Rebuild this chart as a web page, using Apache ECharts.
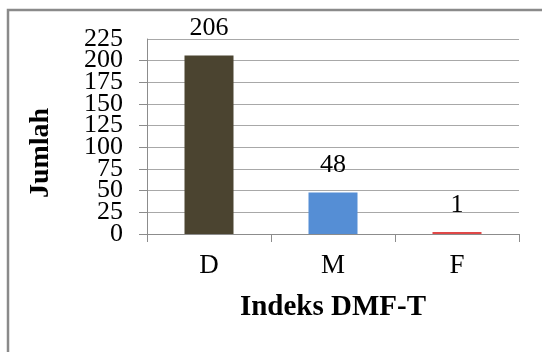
<!DOCTYPE html>
<html>
<head>
<meta charset="utf-8">
<script src="https://cdn.jsdelivr.net/npm/echarts@6/dist/echarts.min.js"></script>
<style>
  html, body { margin: 0; padding: 0; background: #ffffff; }
  #chart { width: 542px; height: 352px; }
</style>
</head>
<body>
<div id="chart"></div>
<script>
// DMF-T index components and their counts
const categories = ['D', 'M', 'F'];
const counts = [206, 48, 1];
const barColors = ['#4b4430', '#558ed5', '#e04848'];
const yTicks = { min: 0, max: 225, step: 25 };
const xTitle = 'Indeks DMF-T';
const yTitle = 'Jumlah';

const serif = '"Liberation Serif", "Times New Roman", serif';

const chart = echarts.init(document.getElementById('chart'), null, { renderer: 'canvas' });

// The tick labels are packed tightly; they are split over two stacked
// axes (even and odd steps) so none of them gets dropped as overlapping.
const tickLabel = (keepOdd) => ({
  margin: 24,
  color: '#000',
  fontFamily: serif,
  fontSize: 26,
  hideOverlap: false,
  showMinLabel: !keepOdd,
  showMaxLabel: keepOdd,
  formatter: v => (Math.round(v / yTicks.step) % 2 === 1) === keepOdd ? String(v) : ''
});

chart.setOption({
  animation: false,
  backgroundColor: '#ffffff',
  grid: { left: 147, right: 23, top: 39, bottom: 118, containLabel: false },
  graphic: [
    {
      // chart frame, open past the right and bottom edges
      type: 'rect',
      x: 8, y: 10,
      shape: { width: 600, height: 400 },
      style: { fill: 'none', stroke: '#8a8a8a', lineWidth: 2.5 },
      silent: true
    },
    {
      type: 'text',
      x: 333, y: 308,
      style: {
        text: xTitle,
        font: 'bold 29px ' + serif,
        fill: '#000',
        textAlign: 'center',
        textVerticalAlign: 'middle'
      }
    },
    {
      type: 'text',
      x: 41, y: 153,
      rotation: Math.PI / 2,
      style: {
        text: yTitle,
        font: 'bold 28px ' + serif,
        fill: '#000',
        textAlign: 'center',
        textVerticalAlign: 'middle'
      }
    }
  ],
  xAxis: {
    type: 'category',
    data: categories,
    axisLine: { show: true, lineStyle: { color: '#8c8c8c', width: 1 } },
    axisTick: { show: true, length: 8, alignWithLabel: false, lineStyle: { color: '#8c8c8c' } },
    axisLabel: { margin: 18, color: '#000', fontFamily: serif, fontSize: 27 },
    splitLine: { show: false }
  },
  yAxis: [
    {
      type: 'value',
      position: 'left',
      min: yTicks.min,
      max: yTicks.max,
      interval: yTicks.step,
      axisLine: { show: true, lineStyle: { color: '#8c8c8c', width: 1 } },
      axisTick: { show: true, length: 8, lineStyle: { color: '#8c8c8c' } },
      axisLabel: tickLabel(false),
      splitLine: { show: true, lineStyle: { color: '#a8a8a8', width: 1 } }
    },
    {
      type: 'value',
      position: 'left',
      offset: 0,
      min: yTicks.min,
      max: yTicks.max,
      interval: yTicks.step,
      axisLine: { show: false },
      axisTick: { show: false },
      axisLabel: tickLabel(true),
      splitLine: { show: false }
    }
  ],
  series: [{
    type: 'bar',
    yAxisIndex: 0,
    barWidth: 49,
    barMinHeight: 2,
    data: counts.map((v, i) => ({ value: v, itemStyle: { color: barColors[i] } })),
    label: {
      show: true,
      position: 'top',
      distance: 14,
      color: '#000',
      fontFamily: serif,
      fontSize: 26
    }
  }]
});
</script>
</body>
</html>
